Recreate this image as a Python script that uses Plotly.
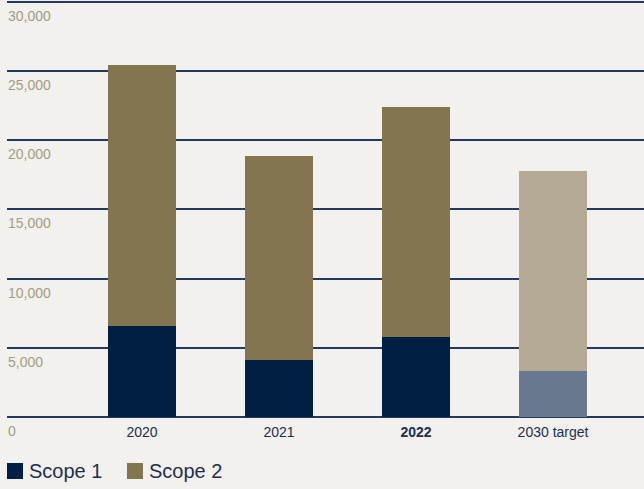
import plotly.graph_objects as go

# Emissions by year (tCO2e)
categories = ["2020", "2021", "2022", "2030 target"]
tick_labels = ["2020", "2021", "<b>2022</b>", "2030 target"]
scope1 = [6560, 4110, 5770, 3320]
scope2 = [18840, 14710, 16590, 14420]
y_ticks = [0, 5000, 10000, 15000, 20000, 25000, 30000]

NAVY = "#001f42"
BRONZE = "#83754f"
NAVY_LIGHT = "#67788f"
BRONZE_LIGHT = "#b5ab95"
BG = "#f2f1ed"
GRID = "#24395e"
AXIS_TEXT = "#a59b80"
LABEL_TEXT = "#1d2f50"
FONT = "Liberation Sans, Arial, sans-serif"

s1_colors = [NAVY, NAVY, NAVY, NAVY_LIGHT]
s2_colors = [BRONZE, BRONZE, BRONZE, BRONZE_LIGHT]

fig = go.Figure()
fig.add_trace(go.Bar(x=categories, y=scope1, name="Scope 1",
                     marker=dict(color=s1_colors, line=dict(width=0)),
                     width=0.5, showlegend=False, hoverinfo="x+y+name"))
fig.add_trace(go.Bar(x=categories, y=scope2, name="Scope 2",
                     marker=dict(color=s2_colors, line=dict(width=0)),
                     width=0.5, showlegend=False, hoverinfo="x+y+name"))

# Value labels sit just below each gridline, at the left edge
for v in y_ticks:
    fig.add_annotation(text=f"{v:,}", xref="paper", yref="y", x=0, y=v,
                       xanchor="left", yanchor="middle", xshift=-1, yshift=-14,
                       showarrow=False, font=dict(size=14, color=AXIS_TEXT, family=FONT))

# Legend: squares plus labels under the plot
legend_items = [("Scope 1", NAVY, 0.0), ("Scope 2", BRONZE, 120 / 637)]
sq_w = 16 / 637
for label, color, x0 in legend_items:
    fig.add_shape(type="rect", xref="paper", yref="paper",
                  x0=x0, x1=x0 + sq_w, y0=-0.1103, y1=-0.1487,
                  fillcolor=color, line=dict(width=0))
    fig.add_annotation(text=label, xref="paper", yref="paper",
                       x=x0 + 20 / 637, y=-0.1295, xanchor="left", yanchor="middle",
                       showarrow=False, font=dict(size=20, color=LABEL_TEXT, family=FONT))

fig.update_layout(
    barmode="stack",
    width=644, height=489,
    margin=dict(l=7, r=0, t=0, b=72),
    paper_bgcolor=BG, plot_bgcolor=BG,
    font=dict(family=FONT),
    showlegend=False,
    xaxis=dict(
        type="category", range=[-0.985, 3.664],
        tickvals=categories, ticktext=tick_labels,
        showgrid=False, showline=False, zeroline=False, ticks="",
        ticklabelstandoff=5,
        tickfont=dict(size=14, color=LABEL_TEXT),
    ),
    yaxis=dict(
        range=[0, 30116], tickvals=y_ticks, showticklabels=False,
        showgrid=True, gridcolor=GRID, gridwidth=1.5,
        zeroline=True, zerolinecolor=GRID, zerolinewidth=1.5,
        showline=False, ticks="",
    ),
)

fig.write_html("out.html")
